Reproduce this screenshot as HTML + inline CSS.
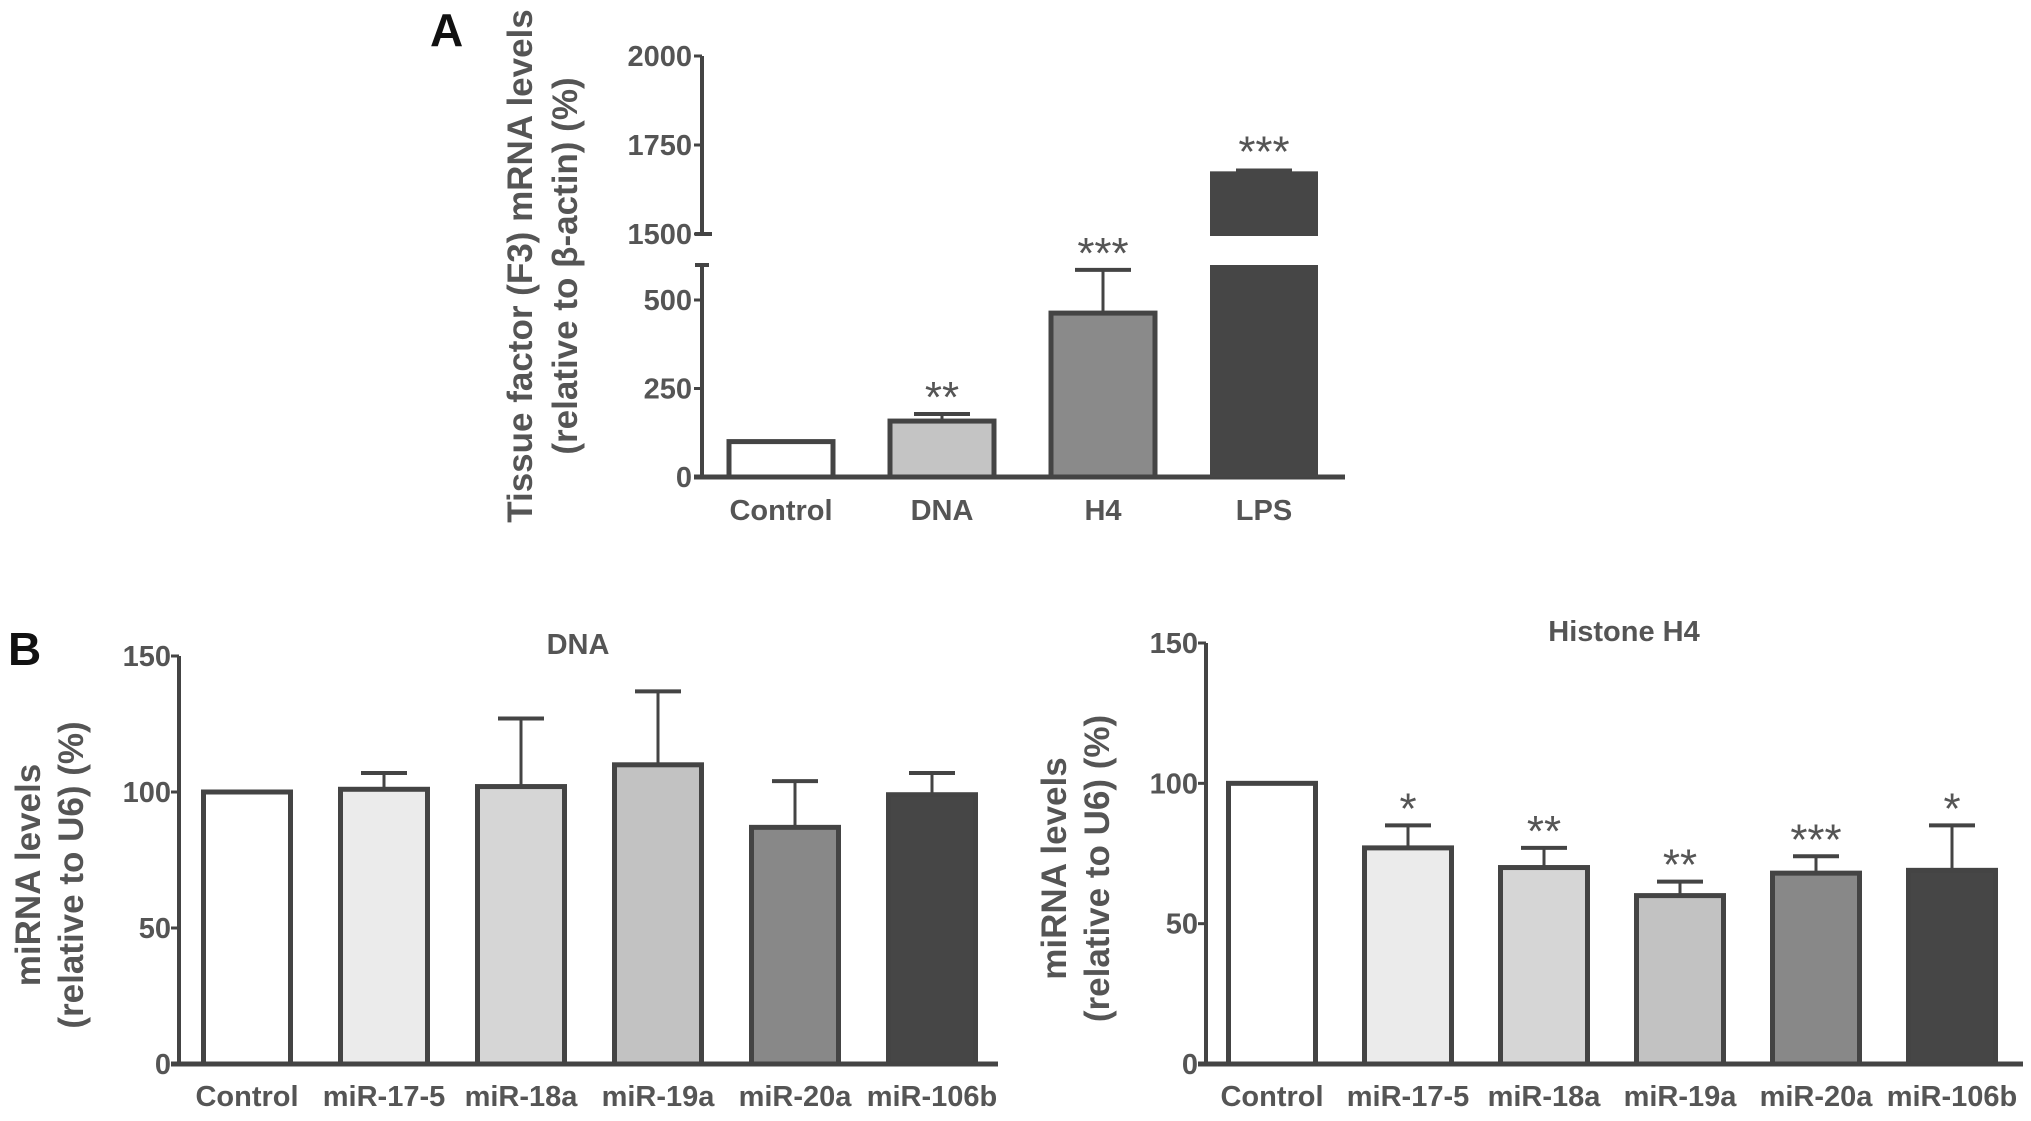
<!DOCTYPE html>
<html><head><meta charset="utf-8"><style>
html,body{margin:0;padding:0;background:#fff;}
svg{display:block;font-family:"Liberation Sans",sans-serif;}
.t{fill:#555;font-size:29px;font-weight:bold;}
.st{fill:#555;font-size:44px;}
.ttl{fill:#555;font-family:"Liberation Sans",sans-serif;font-weight:bold;font-size:35px;}
</style></head><body>
<svg id="fig" width="2031" height="1121" viewBox="0 0 2031 1121">
<text x="430" y="46" font-family="Liberation Sans,sans-serif" font-size="46" font-weight="bold" fill="#111">A</text>
<text x="8" y="665" font-family="Liberation Sans,sans-serif" font-size="46" font-weight="bold" fill="#111">B</text>
</svg>
<script>
const aCats=["Control","DNA","H4","LPS"];
const aVals=[100,158,463,1676];
const aErr=[100,178,585,1684];
const aStars=["","**","***","***"];
const aFill=["#ffffff","#c4c4c4","#8a8a8a","#464646"];
const bCats=["Control","miR-17-5","miR-18a","miR-19a","miR-20a","miR-106b"];
const dnaVals=[100,101,102,110,87,99];
const dnaErr=[100,107,127,137,104,107];
const dnaStars=["","","","","",""];
const h4Vals=[100,77,70,60,68,69];
const h4Err=[100,85,77,65,74,85];
const h4Stars=["","*","**","**","***","*"];
const bFill=["#ffffff","#ebebeb","#d6d6d6","#c2c2c2","#888888","#464646"];
const aLowTicks=[0,250,500];
const aHighTicks=[1500,1750,2000];
const bTicks=[0,50,100,150];

const svg=document.getElementById('fig');
const NS="http://www.w3.org/2000/svg";
function el(tag,attrs,parent){const e=document.createElementNS(NS,tag);for(const k in attrs)e.setAttribute(k,attrs[k]);(parent||svg).appendChild(e);return e;}
const S="#444";

// Panel A
const aX0=702,aX1=1345,aBase=477;
const yLow=v=>aBase-v*(477-300)/500;
const yHigh=v=>234-(v-1500)*(234-56)/500;
const aLowTop=265,aHighBot=236;
const aCx=i=>781+i*161;
const aW=108;
let g=el('g',{});


let ax=el('line',{x1:aX0,y1:aBase,x2:aX0,y2:aLowTop,stroke:S,'stroke-width':4},g);

el('line',{x1:aX0-7,y1:aLowTop,x2:aX0+7,y2:aLowTop,stroke:S,'stroke-width':4},g);
ax=el('line',{x1:aX0,y1:yHigh(1500),x2:aX0,y2:yHigh(2000),stroke:S,'stroke-width':4},g);

el('line',{x1:aX0-7,y1:yHigh(1500),x2:aX0+10,y2:yHigh(1500),stroke:S,'stroke-width':4},g);
ax=el('line',{x1:aX0-8,y1:aBase,x2:aX1,y2:aBase,stroke:S,'stroke-width':5},g);

aLowTicks.forEach(v=>{el('line',{x1:aX0-8,y1:yLow(v),x2:aX0,y2:yLow(v),stroke:S,'stroke-width':3},g);
 const t=el('text',{x:aX0-10,y:yLow(v)+10,'text-anchor':'end',class:'t'},g);t.textContent=v;
 });
aHighTicks.forEach(v=>{el('line',{x1:aX0-8,y1:yHigh(v),x2:aX0,y2:yHigh(v),stroke:S,'stroke-width':3},g);
 const t=el('text',{x:aX0-10,y:yHigh(v)+10,'text-anchor':'end',class:'t'},g);t.textContent=v;
 });
aCats.forEach((c,i)=>{
 const cx=aCx(i),v=aVals[i];
 if(v>1500){
  let r=el('rect',{x:cx-aW/2,y:aLowTop,width:aW,height:aBase-aLowTop,fill:aFill[i]},g);
  
  r=el('rect',{x:cx-aW/2,y:yHigh(v),width:aW,height:aHighBot-yHigh(v),fill:aFill[i]},g);
  
  el('rect',{x:cx-28,y:yHigh(aErr[i]),width:56,height:yHigh(v)-yHigh(aErr[i])+1,fill:aFill[i]},g);
  const s=el('text',{x:cx,y:yHigh(aErr[i])-2,'text-anchor':'middle',class:'st'},g);s.textContent=aStars[i];
  
 } else {
  el('line',{x1:cx,y1:yLow(v),x2:cx,y2:yLow(aErr[i]),stroke:S,'stroke-width':3},g);
  if(aErr[i]>v)el('line',{x1:cx-28,y1:yLow(aErr[i]),x2:cx+28,y2:yLow(aErr[i]),stroke:S,'stroke-width':4},g);
  const r=el('rect',{x:cx-aW/2+2,y:yLow(v),width:aW-4,height:aBase-yLow(v),fill:aFill[i],stroke:S,'stroke-width':5},g);
  
  if(aStars[i]){const s=el('text',{x:cx,y:yLow(aErr[i])-2,'text-anchor':'middle',class:'st'},g);s.textContent=aStars[i];
  }
 }
 const t=el('text',{x:cx,y:520,'text-anchor':'middle',class:'t','font-size':31},g);t.textContent=c;
 
});
let yt=el('text',{transform:'translate(532,266) rotate(-90)','text-anchor':'middle',class:'ttl'},g);yt.textContent="Tissue factor (F3) mRNA levels";

yt=el('text',{transform:'translate(577,266) rotate(-90)','text-anchor':'middle',class:'ttl'},g);yt.textContent="(relative to β-actin) (%)";


// Panel B
function panelB(name,title,vals,errs,stars,x0,x1,yTop,yBase,cx0,step,titleX,ytX){
 const gg=el('g',{});
 
 
 const y=v=>yBase-v*(yBase-yTop)/150;
 const w=91;
 let a=el('line',{x1:x0,y1:yBase,x2:x0,y2:y(150),stroke:S,'stroke-width':4},gg);
 
 a=el('line',{x1:x0-8,y1:yBase,x2:x1,y2:yBase,stroke:S,'stroke-width':5},gg);
 
 bTicks.forEach(v=>{el('line',{x1:x0-8,y1:y(v),x2:x0,y2:y(v),stroke:S,'stroke-width':3},gg);
  const t=el('text',{x:x0-8,y:y(v)+10,'text-anchor':'end',class:'t'},gg);t.textContent=v;
  });
 bCats.forEach((c,i)=>{
  const cx=cx0+i*step,v=vals[i];
  if(errs[i]>v){el('line',{x1:cx,y1:y(v),x2:cx,y2:y(errs[i]),stroke:S,'stroke-width':3},gg);
   el('line',{x1:cx-23,y1:y(errs[i]),x2:cx+23,y2:y(errs[i]),stroke:S,'stroke-width':4},gg);}
  const r=el('rect',{x:cx-w/2+2,y:y(v),width:w-4,height:yBase-y(v),fill:bFill[i],stroke:S,'stroke-width':5},gg);
  
  if(stars[i]){const s=el('text',{x:cx,y:y(errs[i])-2,'text-anchor':'middle',class:'st','font-size':40},gg);s.textContent=stars[i];
   }
  const t=el('text',{x:cx,y:yBase+42,'text-anchor':'middle',class:'t','font-size':29},gg);t.textContent=c;
  
 });
 const tt=el('text',{x:titleX,y:yTop-2,'text-anchor':'middle',class:'t','font-size':29},gg);tt.textContent=title;
 
 const mid=(yTop+yBase)/2+15;
 let q=el('text',{transform:`translate(${ytX},${mid}) rotate(-90)`,'text-anchor':'middle',class:'ttl','font-size':31},gg);q.textContent="miRNA levels";
 
 q=el('text',{transform:`translate(${ytX+43},${mid}) rotate(-90)`,'text-anchor':'middle',class:'ttl','font-size':31},gg);q.textContent="(relative to U6) (%)";
 
}
panelB('dna','DNA',dnaVals,dnaErr,dnaStars,179,998,656,1064,247,137,578,40);
panelB('h4','Histone H4',h4Vals,h4Err,h4Stars,1206,2023,643,1064,1272,136,1624,1066);
</script>
</body></html>
